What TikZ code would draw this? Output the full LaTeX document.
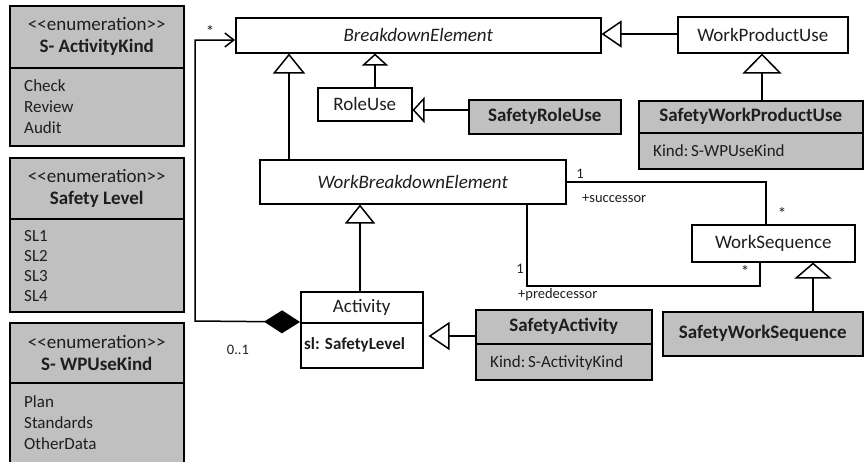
\documentclass[tikz,border=0pt]{standalone}
\usepackage{fontspec}
\setmainfont{Carlito}
\usetikzlibrary{arrows.meta,calc}
\definecolor{boxgray}{RGB}{192,192,192}
\definecolor{ink}{RGB}{30,30,30}
\begin{document}
\begin{tikzpicture}[x=1pt,y=-1pt,
  box/.style={draw=black, line width=1.5pt, inner sep=0pt, anchor=north west, text=ink},
  plain/.style={box, fill=white},
  shaded/.style={box, fill=boxgray},
  cname/.style={font=\fontsize{19}{22}\selectfont},
  bname/.style={font=\fontsize{19}{22}\selectfont\bfseries},
  iname/.style={font=\fontsize{19}{22}\selectfont\itshape},
  attr/.style={font=\fontsize{17}{20}\selectfont, text=ink, inner sep=0pt, anchor=base west},
  lbl/.style={font=\fontsize{14.5}{16}\selectfont, text=ink, inner sep=0pt, anchor=base},
  link/.style={draw=black, line width=1.5pt},
  gen/.style 2 args={link, -{Triangle[open, fill=white, length=#1, width=#2]}},
]
\useasboundingbox (0,0) rectangle (864,461);

% ---------- enumerations ----------
\node[shaded, align=center, font=\fontsize{19}{22}\selectfont,
      minimum width=174pt, minimum height=62pt] (enA) at (9,5)
  {<\kern0pt<enumeration>\kern0pt>\\\bfseries S- ActivityKind};
\node[shaded, minimum width=174pt, minimum height=78pt] (enAb) at (9,67) {};
\foreach \t [count=\i] in {Check,Review,Audit}
  \node[attr] (enAi\i) at (24,{70+21*\i}) {\t};

\node[shaded, align=center, font=\fontsize{19}{22}\selectfont,
      minimum width=174pt, minimum height=61pt] (enB) at (9,157)
  {<\kern0pt<enumeration>\kern0pt>\\\bfseries Safety Level};
\node[shaded, minimum width=174pt, minimum height=93pt] (enBb) at (9,218) {};
\foreach \t [count=\i] in {SL1,SL2,SL3,SL4}
  \node[attr] (enBi\i) at (24,{221+20*\i}) {\t};

\node[shaded, align=center, font=\fontsize{19}{22}\selectfont,
      minimum width=174pt, minimum height=60pt] (enC) at (9,322)
  {<\kern0pt<enumeration>\kern0pt>\\\bfseries S- WPUseKind};
\node[shaded, minimum width=174pt, minimum height=80pt] (enCb) at (9,382) {};
\foreach \t [count=\i] in {Plan,Standards,OtherData}
  \node[attr] (enCi\i) at (24,{386+21*\i}) {\t};

% ---------- classes ----------
\node[plain, iname, minimum width=365pt, minimum height=35pt] (be) at (235,17) {BreakdownElement};
\node[plain, cname, minimum width=94pt, minimum height=33pt] (ru) at (317,87) {RoleUse};
\node[shaded, bname, minimum width=152pt, minimum height=34pt] (sru) at (468,99) {SafetyRoleUse};
\node[plain, cname, minimum width=170pt, minimum height=36pt] (wpu) at (677,16) {WorkProductUse};

\node[shaded, bname, minimum width=224pt, minimum height=32pt] (swpu) at (638,100) {SafetyWorkProductUse};
\node[shaded, minimum width=224pt, minimum height=36pt] (swpub) at (638,132) {};
\node[attr] (swpuk) at (653,156) {Kind:\,S-WPUseKind};

\node[plain, iname, minimum width=306pt, minimum height=44pt] (wbe) at (259,159) {WorkBreakdownElement};
\node[plain, cname, minimum width=163pt, minimum height=37pt] (ws) at (691,224) {WorkSequence};
\node[shaded, bname, minimum width=200pt, minimum height=44pt] (sws) at (662,311) {SafetyWorkSequence};

\node[plain, cname, minimum width=122pt, minimum height=31pt] (act) at (300,291) {Activity};
\node[plain, minimum width=122pt, minimum height=45pt] (actb) at (300,322) {};
\node[attr, font=\fontsize{17}{20}\selectfont\bfseries] (actsl) at (304,349) {sl: SafetyLevel};

\node[shaded, bname, minimum width=176pt, minimum height=34pt] (sa) at (475,309) {SafetyActivity};
\node[shaded, minimum width=176pt, minimum height=36pt] (sab) at (475,343) {};
\node[attr] (sak) at (490,367) {Kind:\,S-ActivityKind};

% ---------- generalizations ----------
\draw[gen={20pt}{32pt}] (wbe.north -| 289,0) -- (be.south -| 289,0);
\draw[gen={12pt}{26pt}] (ru.north -| 375,0) -- (be.south -| 375,0);
\draw[gen={12pt}{26pt}] (sru.west |- 0,110) -- (ru.east |- 0,110);
\draw[gen={20pt}{27pt}] (wpu.west |- 0,34) -- (be.east |- 0,34);
\draw[gen={20pt}{39pt}] (swpu.north -| 762,0) -- (wpu.south -| 762,0);
\draw[gen={19pt}{30pt}] (act.north -| 360,0) -- (wbe.south -| 360,0);
\draw[gen={21pt}{28pt}, shorten >=5pt] (sa.west |- 0,336) -- (act.east |- 0,336);
\draw[gen={16pt}{37pt}] (sws.north -| 813,0) -- (ws.south -| 813,0);

% ---------- composition: Activity -> BreakdownElement ----------
\coordinate (cbend) at (195,321);
\draw[link, {Diamond[length=36pt,width=23pt]}-{Straight Barb[length=9pt,width=14pt]}]
  (actb.north west) -- (cbend) |- (be.west |- 0,40);
\node[lbl, font=\fontsize{17}{18}\selectfont] (mStar) at (210,37) {*};
\node[lbl] (mZero) at (238,354) {0..1};

% ---------- successor / predecessor ----------
\draw[link] (wbe.east |- 0,182) -| (ws.north -| 766,0);
\coordinate (pbend) at (527,286);
\draw[link] (wbe.south -| 527,0) -- (pbend) -| (ws.south -| 760,0);

\node[lbl] (sOne) at (580,178) {1};
\node[lbl, anchor=base west] (sRole) at (582,202) {+successor};
\node[lbl, font=\fontsize{17}{18}\selectfont] (sStar) at (782,219) {*};
\node[lbl] (pOne) at (520,273) {1};
\node[lbl, anchor=base west] (pRole) at (518,298) {+predecessor};
\node[lbl, font=\fontsize{17}{18}\selectfont] (pStar) at (745,277) {*};
\end{tikzpicture}
\end{document}
